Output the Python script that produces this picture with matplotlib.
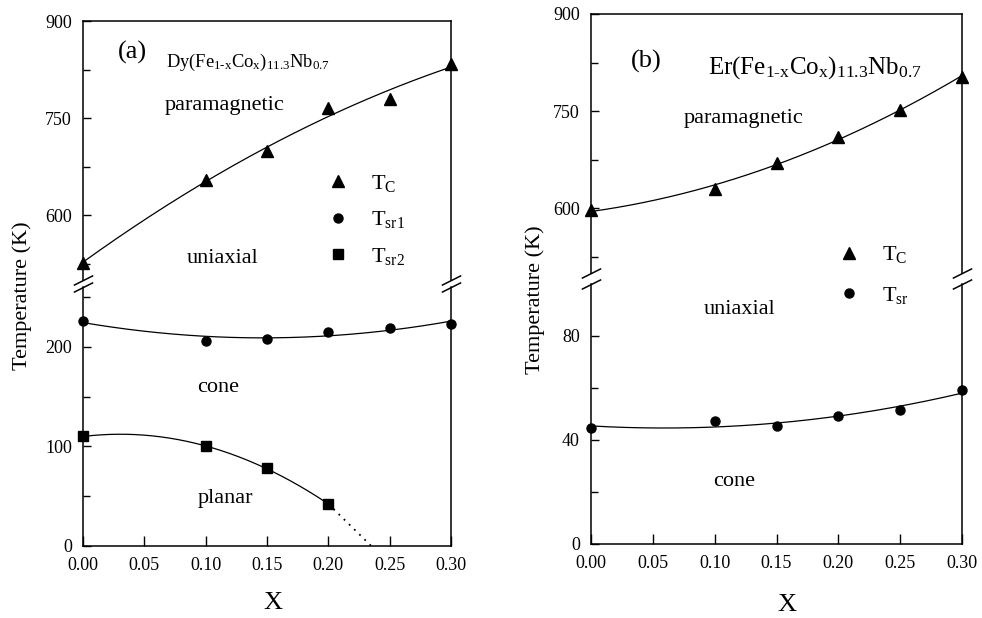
import numpy as np
import matplotlib
matplotlib.use("Agg")
import matplotlib.pyplot as plt
from matplotlib.lines import Line2D

plt.rcParams["font.family"] = ["Liberation Serif", "DejaVu Serif"]
plt.rcParams["mathtext.fontset"] = "custom"
plt.rcParams["mathtext.rm"] = "Liberation Serif"
plt.rcParams["mathtext.it"] = "Liberation Serif"
plt.rcParams["mathtext.bf"] = "Liberation Serif:bold"

# composition x
x = [0.00, 0.10, 0.15, 0.20, 0.25, 0.30]

# (a) Dy(Fe1-xCox)11.3Nb0.7
tc_dy = [527, 654, 700, 765, 780, 834]
tsr1_dy = [226, 206, 208, 215, 219, 223]
x_sr2 = [0.00, 0.10, 0.15, 0.20]
tsr2_dy = [110, 100, 78, 42]
# where the dotted extrapolation of Tsr2 reaches 0 K
x_sr2_zero = 0.235

# (b) Er(Fe1-xCox)11.3Nb0.7
tc_er = [597, 629, 670, 710, 752, 803]
tsr_er = [44.7, 47.4, 45.3, 49.2, 51.4, 59.2]

W, H = 982, 618
fig = plt.figure(figsize=(W / 100, H / 100), dpi=100)


def px_axes(left, right, top, bottom):
    return fig.add_axes([left / W, 1 - bottom / H, (right - left) / W, (bottom - top) / H])


def style(ax, upper):
    for s in ["left", "right"]:
        ax.spines[s].set_linewidth(1.1)
    if upper:
        ax.spines["bottom"].set_visible(False)
        ax.spines["top"].set_linewidth(1.1)
        ax.tick_params(axis="x", which="both", bottom=False, labelbottom=False)
    else:
        ax.spines["top"].set_visible(False)
        ax.spines["bottom"].set_linewidth(1.1)
        ax.tick_params(axis="x", which="both", bottom=True, top=False, direction="in",
                       length=7, width=1, labelsize=13, pad=8)
    ax.tick_params(axis="y", which="major", left=True, right=False, direction="in",
                   length=6, width=1, labelsize=13, pad=8)
    ax.tick_params(axis="y", which="minor", left=True, right=False, direction="in",
                   length=5, width=1)
    ax.set_xlim(0, 0.3)
    ax.set_xticks(np.arange(0, 0.301, 0.05))
    ax.set_xticklabels(["0.00", "0.05", "0.10", "0.15", "0.20", "0.25", "0.30"])


def breaks(ax, y):
    kw = dict(marker=[(-1, -0.5), (1, 0.5)], markersize=14, linestyle="none",
              color="k", mec="k", mew=1.1, clip_on=False)
    ax.plot([0, 1], [y, y], transform=ax.transAxes, **kw)


def fit_line(ax, xs, ys, deg, x0, x1, **kw):
    c = np.polyfit(xs, ys, deg)
    xx = np.linspace(x0, x1, 200)
    ax.plot(xx, np.polyval(c, xx), **kw)
    return c


line_kw = dict(color="k", lw=0.9)

# ---------- panel (a) ----------
au = px_axes(83, 451, 21, 280)
al = px_axes(83, 451, 287, 546)
style(au, True)
style(al, False)
au.set_ylim(500, 900)
au.set_yticks([600, 750, 900])
au.set_yticks([525, 675, 825], minor=True)
al.set_ylim(0, 260)
al.set_yticks([0, 100, 200])
al.set_yticks([50, 150, 250], minor=True)

fit_line(au, x, tc_dy, 2, 0, 0.3, **line_kw)
fit_line(al, x, tsr1_dy, 2, 0, 0.3, **line_kw)
c2 = fit_line(al, x_sr2, tsr2_dy, 2, 0, 0.2, **line_kw)
al.plot([0.2, x_sr2_zero], [np.polyval(c2, 0.2), 0], color="k", lw=1.3, ls=(0, (1, 3)))

au.plot(x, tc_dy, "k^", ms=8, clip_on=False, zorder=5)
al.plot(x, tsr1_dy, "ko", ms=6.5, clip_on=False, zorder=5)
al.plot(x_sr2, tsr2_dy, "ks", ms=6.5, clip_on=False, zorder=5)

breaks(au, 0)
breaks(al, 1)

au.text(0.040, 852, "(a)", fontsize=19, ha="center", va="center")
au.text(0.068, 836, r"Dy(Fe$_\mathrm{1\text{-}x}$Co$_\mathrm{x}$)$_\mathrm{11.3}$Nb$_\mathrm{0.7}$",
        fontsize=13.3, ha="left", va="center")
au.text(0.115, 770, "paramagnetic", fontsize=16, ha="center", va="center")
au.text(0.114, 533, "uniaxial", fontsize=16, ha="center", va="center")
al.text(0.110, 159, "cone", fontsize=16, ha="center", va="center")
al.text(0.116, 48, "planar", fontsize=16, ha="center", va="center")

fig.text(22 / W, 1 - 296 / H, "Temperature (K)", rotation=90, fontsize=16,
         ha="center", va="center")
fig.text(273 / W, 1 - 603 / H, "X", fontsize=19, ha="center", va="center")

ha = [Line2D([], [], color="k", marker="^", ls="none", ms=8),
      Line2D([], [], color="k", marker="o", ls="none", ms=6.5),
      Line2D([], [], color="k", marker="s", ls="none", ms=6.5)]
fig.legend(ha, [r"T$_\mathrm{C}$", r"T$_\mathrm{sr1}$", r"T$_\mathrm{sr2}$"],
           loc="center left", bbox_to_anchor=(327 / W, 1 - 220 / H), frameon=False,
           fontsize=16, handlelength=1.0, handletextpad=1.0, borderpad=0,
           borderaxespad=0, labelspacing=0.7)

# ---------- panel (b) ----------
bu = px_axes(591, 962, 14, 273)
bl = px_axes(591, 962, 284, 544)
style(bu, True)
style(bl, False)
bu.set_ylim(500, 900)
bu.set_yticks([600, 750, 900])
bu.set_yticks([525, 675, 825], minor=True)
bl.set_ylim(0, 100)
bl.set_yticks([0, 40, 80])
bl.set_yticks([20, 60], minor=True)

fit_line(bu, x, tc_er, 2, 0, 0.3, **line_kw)
fit_line(bl, x, tsr_er, 2, 0, 0.3, **line_kw)

bu.plot(x, tc_er, "k^", ms=8, clip_on=False, zorder=5)
bl.plot(x, tsr_er, "ko", ms=6.5, clip_on=False, zorder=5)

breaks(bu, 0)
breaks(bl, 1)

bu.text(0.0445, 826, "(b)", fontsize=19, ha="center", va="center")
bu.text(0.095, 818, r"Er(Fe$_\mathrm{1\text{-}x}$Co$_\mathrm{x}$)$_\mathrm{11.3}$Nb$_\mathrm{0.7}$",
        fontsize=18, ha="left", va="center")
bu.text(0.123, 739, "paramagnetic", fontsize=16, ha="center", va="center")
bl.text(0.120, 90, "uniaxial", fontsize=16, ha="center", va="center")
bl.text(0.1156, 24, "cone", fontsize=16, ha="center", va="center")

fig.text(535 / W, 1 - 300 / H, "Temperature (K)", rotation=90, fontsize=16,
         ha="center", va="center")
fig.text(787 / W, 1 - 605 / H, "X", fontsize=19, ha="center", va="center")

hb = [Line2D([], [], color="k", marker="^", ls="none", ms=8),
      Line2D([], [], color="k", marker="o", ls="none", ms=6.5)]
fig.legend(hb, [r"T$_\mathrm{C}$", r"T$_\mathrm{sr}$"],
           loc="center left", bbox_to_anchor=(838 / W, 1 - 275 / H), frameon=False,
           fontsize=16, handlelength=1.0, handletextpad=1.0, borderpad=0,
           borderaxespad=0, labelspacing=0.87)

fig.savefig("out.png", dpi=100)
